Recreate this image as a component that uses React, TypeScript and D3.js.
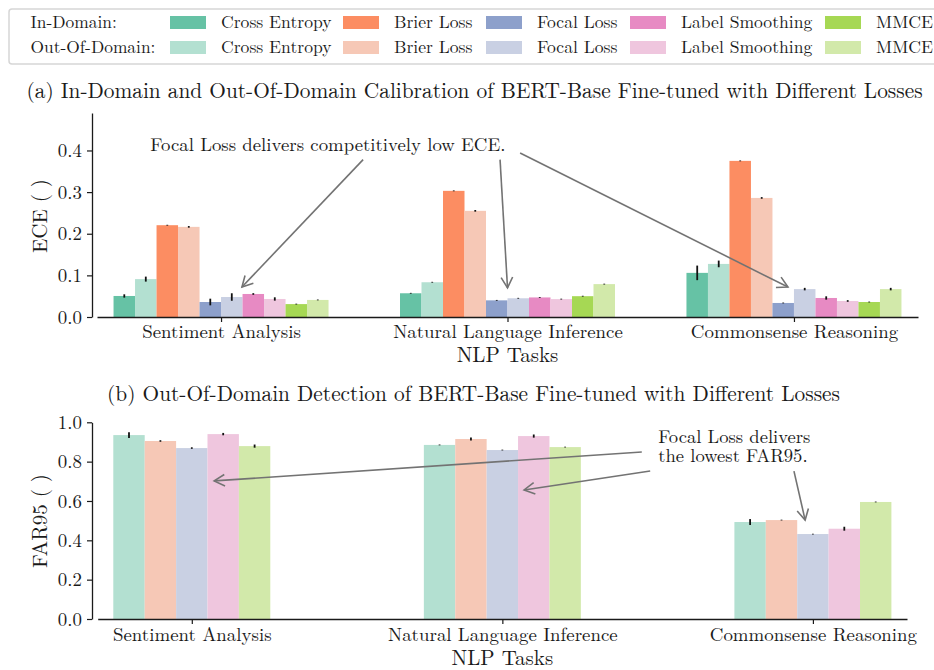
import React, { useRef, useEffect } from 'react';
import * as d3 from 'd3';

const tasks = ["Sentiment Analysis", "Natural Language Inference", "Commonsense Reasoning"];
const losses = ["Cross Entropy", "Brier Loss", "Focal Loss", "Label Smoothing", "MMCE"];
const inColors = ["#66c2a5", "#fc8d62", "#8da0cb", "#e78ac3", "#a6d854"];
const outColors = ["#b3e0d1", "#f6c8b6", "#c9d0e3", "#efc6de", "#d2e9aa"];

// ECE, one row per loss, one value per task
const eceIn = [
  [0.0505, 0.057, 0.106],
  [0.2205, 0.303, 0.375],
  [0.036, 0.040, 0.0337],
  [0.0553, 0.047, 0.0457],
  [0.031, 0.050, 0.036],
];
const eceInErr = [
  [0.004, 0.001, 0.0175],
  [0.001, 0.001, 0.001],
  [0.008, 0.001, 0.001],
  [0.002, 0.001, 0.004],
  [0.001, 0.001, 0.001],
];
const eceOut = [
  [0.091, 0.0835, 0.1275],
  [0.2165, 0.255, 0.286],
  [0.048, 0.045, 0.067],
  [0.0433, 0.043, 0.0385],
  [0.041, 0.079, 0.067],
];
const eceOutErr = [
  [0.006, 0.001, 0.008],
  [0.002, 0.002, 0.002],
  [0.009, 0.001, 0.003],
  [0.004, 0.001, 0.002],
  [0.001, 0.001, 0.003],
];

// FAR95 (out-of-domain only)
const far95 = [
  [0.935, 0.885, 0.493],
  [0.905, 0.915, 0.503],
  [0.869, 0.859, 0.432],
  [0.940, 0.930, 0.459],
  [0.879, 0.874, 0.595],
];
const far95Err = [
  [0.015, 0.002, 0.015],
  [0.004, 0.008, 0.002],
  [0.004, 0.002, 0.002],
  [0.006, 0.008, 0.010],
  [0.008, 0.002, 0.002],
];

const eceTicks = [0, 0.1, 0.2, 0.3, 0.4];
const farTicks = [0, 0.2, 0.4, 0.6, 0.8, 1.0];

// annotations in data space: [task index, value]
const eceNote = { text: "Focal Loss delivers competitively low ECE.", at: [0.373, 0.414] };
const eceArrows = [
  { from: [0.496, 0.378], to: [0.073, 0.072] },
  { from: [0.974, 0.378], to: [1.0, 0.070] },
  { from: [1.044, 0.394], to: [1.979, 0.072] },
];
const farNote = { lines: ["Focal Loss delivers", "the lowest FAR95."], at: [1.502, 0.925] };
const farArrows = [
  { from: [1.449, 0.849], to: [0.072, 0.702] },
  { from: [1.476, 0.752], to: [1.070, 0.656] },
  { from: [1.939, 0.752], to: [1.975, 0.503] },
];

const FONT = `"Latin Modern Roman", "Liberation Serif", serif`;
const INK = "#1a1a1a";

const App: React.FC = () => {
  const svgRef = useRef<SVGSVGElement>(null);

  useEffect(() => {
    if (!svgRef.current) return;
    const svg = d3.select(svgRef.current);
    svg.selectAll("*").remove();

    const arrow = (g: any, x1: number, y1: number, x2: number, y2: number) => {
      const a = Math.atan2(y2 - y1, x2 - x1);
      const len = 12, spread = 0.5;
      g.append("line")
        .attr("x1", x1).attr("y1", y1).attr("x2", x2).attr("y2", y2)
        .attr("stroke", "#737373").attr("stroke-width", 1.6);
      g.append("path")
        .attr("d", `M${x2 - len * Math.cos(a - spread)},${y2 - len * Math.sin(a - spread)}L${x2},${y2}L${x2 - len * Math.cos(a + spread)},${y2 - len * Math.sin(a + spread)}`)
        .attr("fill", "none").attr("stroke", "#737373").attr("stroke-width", 1.6);
    };

    const styleAxis = (g: any, size: number) => {
      g.attr("font-family", null).attr("font-size", null);
      g.selectAll("text").style("font-family", FONT).style("font-size", size + "px").attr("fill", INK);
      g.selectAll("line").attr("stroke", INK).attr("stroke-width", 1.2);
      g.select(".domain").attr("stroke", INK).attr("stroke-width", 1.3);
    };

    const label = (sel: any, size: number) =>
      sel.style("font-family", FONT).style("font-size", size + "px").attr("fill", INK);

    // ---------- legend ----------
    const legend = svg.append("g");
    legend.append("rect")
      .attr("x", 9).attr("y", 9).attr("width", 940).attr("height", 55)
      .attr("rx", 3).attr("fill", "white").attr("stroke", "#d6d6d6").attr("stroke-width", 1.5);
    const swatchX = [170, 343, 486, 630, 825];
    const rows = [
      { label: "In-Domain:", colors: inColors, y: 16 },
      { label: "Out-Of-Domain:", colors: outColors, y: 41 },
    ];
    rows.forEach(r => {
      label(legend.append("text").attr("x", 30.5).attr("y", r.y + 12.3), 17.4).text(r.label);
      losses.forEach((l, i) => {
        legend.append("rect").attr("x", swatchX[i]).attr("y", r.y)
          .attr("width", 36).attr("height", 13).attr("fill", r.colors[i]);
        label(legend.append("text").attr("x", swatchX[i] + 51).attr("y", r.y + 12.3), 17.6).text(l);
      });
    });

    // ---------- panel (a) ----------
    const ya = d3.scaleLinear().domain([0, 0.49]).range([317, 113]);
    const xa = d3.scalePoint<string>().domain(tasks).range([97, 918]).padding(0.433);
    const xaIdx = d3.scaleLinear().domain([0, 2]).range([xa(tasks[0])!, xa(tasks[2])!]);
    const innerA = d3.scaleBand<number>().domain(d3.range(10)).range([-107.5, 107.5]);

    label(svg.append("text").attr("x", 474.5).attr("y", 98).attr("text-anchor", "middle"), 21.35)
      .text("(a) In-Domain and Out-Of-Domain Calibration of BERT-Base Fine-tuned with Different Losses");

    const barsA: any[] = [];
    tasks.forEach((t, ti) => losses.forEach((l, li) => {
      barsA.push({ t, k: li * 2, v: eceIn[li][ti], e: eceInErr[li][ti], c: inColors[li] });
      barsA.push({ t, k: li * 2 + 1, v: eceOut[li][ti], e: eceOutErr[li][ti], c: outColors[li] });
    }));
    const ga = svg.append("g");
    ga.selectAll("rect").data(barsA).join("rect")
      .attr("x", d => xa(d.t)! + innerA(d.k)!)
      .attr("width", innerA.bandwidth())
      .attr("y", d => ya(d.v))
      .attr("height", d => ya(0) - ya(d.v))
      .attr("fill", d => d.c);
    ga.selectAll("line.err").data(barsA).join("line").attr("class", "err")
      .attr("x1", d => xa(d.t)! + innerA(d.k)! + innerA.bandwidth() / 2)
      .attr("x2", d => xa(d.t)! + innerA(d.k)! + innerA.bandwidth() / 2)
      .attr("y1", d => ya(d.v - d.e)).attr("y2", d => ya(d.v + d.e))
      .attr("stroke", "#111").attr("stroke-width", 1.8);

    const yaxA = svg.append("g").attr("transform", "translate(92,0)")
      .call(d3.axisLeft(ya).tickValues(eceTicks).tickFormat(d3.format(".1f")).tickSize(5).tickSizeOuter(0).tickPadding(5));
    styleAxis(yaxA, 18.9);
    const xaxA = svg.append("g").attr("transform", `translate(0,${ya(0)})`)
      .call(d3.axisBottom(xa).tickSize(5).tickSizeOuter(0).tickPadding(3));
    styleAxis(xaxA, 18.9);
    label(svg.append("text").attr("x", xa(tasks[1])).attr("y", 362).attr("text-anchor", "middle"), 21)
      .text("NLP Tasks");
    label(svg.append("text").attr("transform", "translate(47,216) rotate(-90)").attr("text-anchor", "middle"), 21)
      .text("ECE ( )");

    label(svg.append("text").attr("x", xaIdx(eceNote.at[0])).attr("y", ya(eceNote.at[1]) + 6)
      .attr("text-anchor", "middle"), 18.8).text(eceNote.text);
    const annA = svg.append("g");
    eceArrows.forEach(a => arrow(annA, xaIdx(a.from[0]), ya(a.from[1]), xaIdx(a.to[0]), ya(a.to[1])));

    // ---------- panel (b) ----------
    const yb = d3.scaleLinear().domain([0, 1]).range([619, 422.3]);
    const xb = d3.scalePoint<string>().domain(tasks).range([97.7, 907]).padding(0.303);
    const xbIdx = d3.scaleLinear().domain([0, 2]).range([xb(tasks[0])!, xb(tasks[2])!]);
    const innerB = d3.scaleBand<number>().domain(d3.range(5)).range([-78.5, 78.5]);

    label(svg.append("text").attr("x", 473.5).attr("y", 400.5).attr("text-anchor", "middle"), 21.35)
      .text("(b) Out-Of-Domain Detection of BERT-Base Fine-tuned with Different Losses");

    const barsB: any[] = [];
    tasks.forEach((t, ti) => losses.forEach((l, li) => {
      barsB.push({ t, k: li, v: far95[li][ti], e: far95Err[li][ti], c: outColors[li] });
    }));
    const gb = svg.append("g");
    gb.selectAll("rect").data(barsB).join("rect")
      .attr("x", d => xb(d.t)! + innerB(d.k)!)
      .attr("width", innerB.bandwidth())
      .attr("y", d => yb(d.v))
      .attr("height", d => yb(0) - yb(d.v))
      .attr("fill", d => d.c);
    gb.selectAll("line.err").data(barsB).join("line").attr("class", "err")
      .attr("x1", d => xb(d.t)! + innerB(d.k)! + innerB.bandwidth() / 2)
      .attr("x2", d => xb(d.t)! + innerB(d.k)! + innerB.bandwidth() / 2)
      .attr("y1", d => yb(d.v - d.e)).attr("y2", d => yb(d.v + d.e))
      .attr("stroke", "#111").attr("stroke-width", 1.8);

    const yaxB = svg.append("g").attr("transform", "translate(92,0)")
      .call(d3.axisLeft(yb).tickValues(farTicks).tickFormat(d3.format(".1f")).tickSize(5).tickSizeOuter(0).tickPadding(5));
    styleAxis(yaxB, 18.9);
    const xaxB = svg.append("g").attr("transform", `translate(0,${yb(0)})`)
      .call(d3.axisBottom(xb).tickSize(5).tickSizeOuter(0).tickPadding(3.5));
    styleAxis(xaxB, 18.9);
    label(svg.append("text").attr("x", xb(tasks[1])).attr("y", 665).attr("text-anchor", "middle"), 21)
      .text("NLP Tasks");
    label(svg.append("text").attr("transform", "translate(47,521) rotate(-90)").attr("text-anchor", "middle"), 21)
      .text("FAR95 ( )");

    const annB = svg.append("g");
    farArrows.forEach(a => arrow(annB, xbIdx(a.from[0]), yb(a.from[1]), xbIdx(a.to[0]), yb(a.to[1])));
    const noteB = label(svg.append("text"), 18.6);
    farNote.lines.forEach((ln, i) => {
      noteB.append("tspan").attr("x", xbIdx(farNote.at[0])).attr("y", yb(farNote.at[1]) + 5.5 + i * 19).text(ln);
    });
  }, []);

  return (
    <div style={{ position: "absolute", left: 0, top: 0 }}>
      <svg ref={svgRef} width={934} height={670} />
    </div>
  );
};

export default App;
